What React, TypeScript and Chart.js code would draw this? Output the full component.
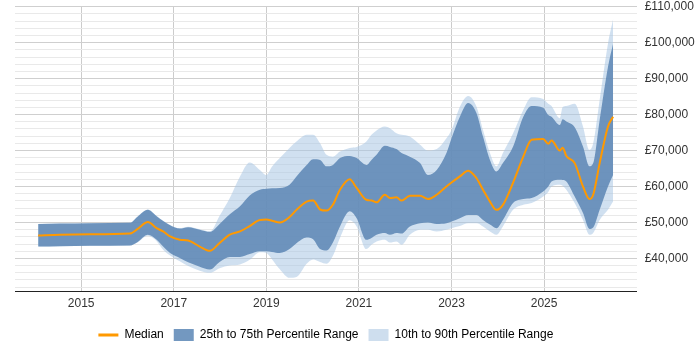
import { useEffect, useRef } from "react";
import { Chart, registerables } from "chart.js";

Chart.register(...registerables);

// Sample dates as decimal years
const dates = [
  2014.07, 2014.54, 2015.19, 2016.05, 2016.22, 2016.44, 2016.63, 2016.77, 2016.92, 2017.13,
  2017.31, 2017.56, 2017.78, 2017.99, 2018.21, 2018.43, 2018.64, 2018.86, 2019.0, 2019.12,
  2019.29, 2019.5, 2019.65, 2019.87, 2020.01, 2020.16, 2020.3, 2020.44, 2020.59, 2020.8,
  2020.95, 2021.16, 2021.27, 2021.38, 2021.56, 2021.67, 2021.81, 2021.92, 2022.1, 2022.32,
  2022.49, 2022.68, 2022.89, 2023.0, 2023.18, 2023.36, 2023.54, 2023.68, 2023.83, 2023.97,
  2024.11, 2024.33, 2024.55, 2024.73, 2024.98, 2025.09, 2025.16, 2025.34, 2025.4, 2025.48,
  2025.66, 2025.84, 2025.98, 2026.06, 2026.2, 2026.38, 2026.49,
];

const p10 = [
  43300, 43400, 43500, 43600, 44500, 46300, 44800, 42400, 40800, 39200,
  37900, 36600, 36000, 37300, 38000, 38300, 39600, 41700, 41500, 39800,
  37000, 34600, 34800, 38500, 39700, 39000, 38500, 40800, 45700, 50600,
  48900, 42600, 43800, 44700, 45200, 44400, 44700, 43800, 46600, 48000,
  48000, 47500, 48000, 48400, 49000, 49800, 49800, 48900, 47500, 46600,
  48900, 53500, 54900, 55400, 57200, 58500, 60000, 60500, 60200, 59100,
  55400, 50700, 46600, 47100, 50700, 53500, 55800,
];

const p25 = [
  43300, 43400, 43500, 43600, 44600, 46600, 45200, 43300, 41500, 40100,
  38900, 37700, 36900, 39000, 40400, 40400, 41200, 42000, 42000, 41800,
  41500, 42600, 44200, 45800, 45300, 42600, 42200, 44500, 48900, 53100,
  51200, 45200, 45700, 46600, 47100, 46600, 47100, 46900, 48900, 49800,
  50000, 49600, 49800, 50300, 51200, 52100, 52100, 50700, 49400, 48400,
  50700, 55400, 56500, 56800, 58600, 60000, 61400, 61900, 61800, 61400,
  57200, 52600, 48200, 48600, 53500, 60000, 63200,
];

const median = [
  46400, 46600, 46700, 46900, 48200, 50100, 48400, 47500, 46100, 45200,
  45000, 43300, 42100, 44300, 46600, 47500, 49000, 50700, 50800, 50500,
  50000, 51500, 53500, 55800, 56100, 53600, 53300, 55000, 59100, 62000,
  59600, 56300, 56100, 55600, 57700, 56800, 57000, 56100, 57400, 57400,
  56500, 57700, 60000, 61100, 62800, 64400, 62300, 59100, 55800, 53500,
  54900, 61100, 68300, 73000, 73200, 71900, 72800, 70000, 70800, 68500,
  66500, 60000, 56500, 57700, 66500, 76700, 79400,
];

const p75 = [
  49600, 49700, 49800, 49900, 51600, 53500, 51700, 50400, 49200, 48300,
  48700, 48000, 47400, 49600, 52300, 54500, 57500, 59100, 59400, 59500,
  59600, 60500, 62800, 66000, 67600, 67400, 65600, 66000, 67900, 68500,
  67900, 66000, 67400, 68800, 71300, 71000, 70400, 69300, 68300, 66500,
  63200, 64600, 69300, 73400, 79400, 83200, 80400, 73900, 67400, 64200,
  66500, 71100, 79400, 82400, 81900, 79900, 79400, 77100, 78700, 78100,
  76500, 71100, 65600, 66500, 78500, 93300, 99800,
];

const p90 = [
  49600, 49700, 49800, 49900, 51700, 53600, 51800, 50500, 49300, 48400,
  48800, 48100, 47500, 51900, 56800, 62800, 66700, 64600, 63200, 65500,
  67900, 70700, 72500, 74400, 74400, 72000, 68800, 68300, 69700, 70700,
  71000, 72500, 74400, 75600, 76700, 76200, 74800, 74400, 73900, 71600,
  70000, 70400, 73400, 75700, 82200, 85200, 82200, 75700, 69300, 65600,
  69300, 74800, 81300, 84800, 84300, 83000, 82400, 79000, 82100, 82400,
  83000, 76700, 70200, 72000, 84100, 99800, 106500,
];

const yearTicks = [2015, 2017, 2019, 2021, 2023, 2025];
const salaryLabels = [40000, 50000, 60000, 70000, 80000, 90000, 100000, 110000];

const seriesNames = [
  "Median",
  "25th to 75th Percentile Range",
  "10th to 90th Percentile Range",
];

const ORANGE = "#ff9900";
const DARK_FILL = "rgba(92,134,180,0.85)";
const LIGHT_FILL = "rgba(170,198,228,0.55)";
const DARK_KEY = "#7398c0";
const LIGHT_KEY = "#cedeee";

const points = (vals: number[]) => dates.map((d, i) => ({ x: d, y: vals[i] }));

// Centre the legend row under the plot area rather than the whole canvas
const legendUnderPlot = {
  id: "legendUnderPlot",
  afterLayout(chart: any) {
    const lg = chart.legend;
    if (!lg || !chart.chartArea) return;
    lg.left = chart.chartArea.left;
    lg.right = chart.chartArea.right;
    lg.top += 2;
    lg.bottom += 2;
  },
};

export default function App() {
  const canvasRef = useRef<HTMLCanvasElement | null>(null);

  useEffect(() => {
    document.body.style.margin = "0";
    const canvas = canvasRef.current;
    if (!canvas) return;

    Chart.defaults.font.family = "'Liberation Sans', Arial, sans-serif";
    Chart.defaults.font.size = 12;
    Chart.defaults.color = "#333";

    const band = (label: string, vals: number[], color: string, fill: any) => ({
      label,
      data: points(vals),
      borderColor: "transparent",
      borderWidth: 0,
      backgroundColor: color,
      pointRadius: 0,
      fill,
      cubicInterpolationMode: "monotone" as const,
    });

    const chart = new Chart(canvas, {
      type: "line",
      data: {
        datasets: [
          {
            label: seriesNames[0],
            data: points(median),
            borderColor: ORANGE,
            backgroundColor: ORANGE,
            borderWidth: 2,
            pointRadius: 0,
            fill: false,
            cubicInterpolationMode: "monotone",
          },
          band(seriesNames[1], p75, DARK_FILL, "+1"),
          band("25th percentile", p25, DARK_FILL, false),
          band(seriesNames[2], p90, LIGHT_FILL, "+1"),
          band("10th percentile", p10, LIGHT_FILL, false),
        ],
      },
      options: {
        responsive: false,
        animation: false,
        events: [],
        layout: { padding: { left: 15, right: 5, top: 0, bottom: 1 } },
        scales: {
          x: {
            type: "linear",
            min: 2013.57,
            max: 2027.0,
            afterBuildTicks: (scale: any) => {
              scale.ticks = yearTicks.map((v) => ({ value: v }));
            },
            afterFit: (scale: any) => {
              scale.height = 25.5;
            },
            ticks: {
              padding: 5,
              autoSkip: false,
              maxRotation: 0,
              callback: (v: any) => String(v),
              color: "#333",
              font: { size: 12 },
            },
            grid: { color: "#cccccc", drawTicks: false, lineWidth: 1 },
            border: { display: true, color: "#222", width: 1 },
          },
          y: {
            type: "linear",
            position: "right",
            min: 30800,
            max: 110000,
            afterBuildTicks: (scale: any) => {
              const t: { value: number }[] = [];
              for (let v = 32000; v <= 110000; v += 2000) t.push({ value: v });
              scale.ticks = t;
            },
            afterFit: (scale: any) => {
              scale.width = 58.3;
              scale.paddingTop = 6.7;
            },
            ticks: {
              padding: 8,
              autoSkip: false,
              color: "#333",
              font: { size: 12 },
              callback: (v: any) =>
                salaryLabels.includes(v) ? "£" + Number(v).toLocaleString("en-GB") : "",
            },
            grid: {
              drawTicks: false,
              color: (ctx: any) =>
                ctx.tick && salaryLabels.includes(ctx.tick.value) ? "#cfcfcf" : "#e9e9e9",
              lineWidth: 1,
            },
            border: { display: false },
          },
        },
        plugins: {
          tooltip: { enabled: false },
          legend: {
            position: "bottom",
            align: "center",
            labels: {
              usePointStyle: true,
              pointStyleWidth: 20,
              boxWidth: 20,
              boxHeight: 13,
              padding: 10,
              color: "#333",
              font: { size: 12 },
              generateLabels: () => [
                {
                  text: seriesNames[0],
                  datasetIndex: 0,
                  pointStyle: "line",
                  strokeStyle: ORANGE,
                  fillStyle: ORANGE,
                  lineWidth: 3,
                  hidden: false,
                },
                {
                  text: seriesNames[1],
                  datasetIndex: 1,
                  pointStyle: "rect",
                  strokeStyle: DARK_KEY,
                  fillStyle: DARK_KEY,
                  lineWidth: 0,
                  hidden: false,
                },
                {
                  text: seriesNames[2],
                  datasetIndex: 3,
                  pointStyle: "rect",
                  strokeStyle: LIGHT_KEY,
                  fillStyle: LIGHT_KEY,
                  lineWidth: 0,
                  hidden: false,
                },
              ],
            },
          },
        },
      },
      plugins: [legendUnderPlot],
    });

    return () => chart.destroy();
  }, []);

  return (
    <div style={{ width: 700, height: 350, position: "relative" }}>
      <canvas ref={canvasRef} width={700} height={350} />
    </div>
  );
}
